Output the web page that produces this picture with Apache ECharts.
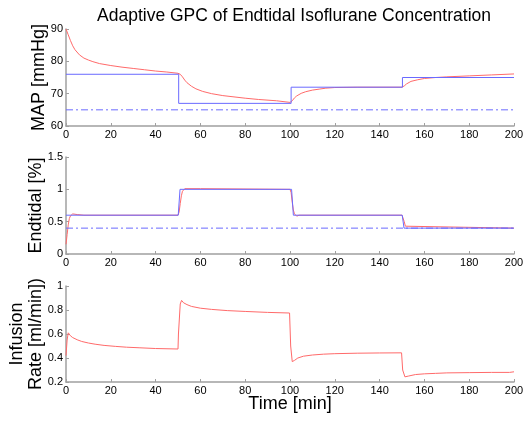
<!DOCTYPE html>
<html>
<head>
<meta charset="utf-8">
<script src="https://cdn.jsdelivr.net/npm/echarts@6/dist/echarts.min.js"></script>
<style>html,body{margin:0;padding:0;background:#fff}#c{width:526px;height:421px}</style>
</head>
<body>
<div id="c"></div>
<script>
// ---- data ----
var xTicks = [0, 20, 40, 60, 80, 100, 120, 140, 160, 180, 200];

var mapTime  = [0, 1, 2, 3, 4, 6, 8, 10, 12, 15, 20, 25, 30, 35, 40, 45, 50, 51, 52, 53, 54, 56, 58, 61, 65, 70, 75, 80, 86, 94, 100, 101, 102, 103, 105, 107, 110, 113, 116, 120, 130, 150, 151, 152, 154, 157, 160, 165, 170, 180, 190, 200];
var mapValue = [90, 88.2, 86.4, 84.8, 83.6, 82, 81, 80.4, 79.9, 79.3, 78.7, 78.2, 77.8, 77.4, 77, 76.7, 76.3, 76, 75.2, 74.2, 73.4, 72.3, 71.5, 70.7, 70, 69.4, 69, 68.6, 68.2, 67.8, 67.3, 67.8, 68.7, 69.3, 70.1, 70.6, 71.1, 71.4, 71.7, 71.9, 72, 72, 72.4, 73, 73.8, 74.3, 74.7, 75, 75.2, 75.5, 75.8, 76.1];
var mapSetTime  = [0, 50.3, 100.5, 150.2, 200];
var mapSetValue = [76, 67, 72, 75, 75];
var mapLimit = 65;

var etTime  = [0, 0.5, 1, 1.5, 2, 3, 5, 8, 50, 50.5, 51, 51.5, 52, 53, 60, 100, 100.5, 101, 101.5, 102, 103, 104, 150, 150.5, 151, 151.5, 152, 200];
var etValue = [0.15, 0.3, 0.45, 0.55, 0.59, 0.62, 0.61, 0.6, 0.6, 0.65, 0.78, 0.9, 0.97, 1.01, 1.01, 1.0, 0.95, 0.8, 0.68, 0.62, 0.585, 0.6, 0.6, 0.57, 0.5, 0.43, 0.4, 0.4];
var etRefTime  = [0, 50.1, 50.9, 100.7, 101.5, 150.1, 150.9, 200];
var etRefValue = [0.6, 0.6, 1.0, 1.0, 0.6, 0.6, 0.4, 0.4];
var etLimit = 0.4;

var infTime  = [0, 0.5, 1, 1.5, 2, 3, 5, 7, 10, 13, 17, 22, 27, 33, 40, 50, 50.2, 51, 51.6, 52.5, 54, 56, 60, 65, 72, 80, 90, 99.8, 100.3, 101, 102, 103.5, 106, 110, 115, 120, 130, 140, 149.8, 150.3, 151.3, 153, 156, 160, 165, 170, 180, 190, 198, 200];
var infValue = [0.42, 0.55, 0.61, 0.6, 0.585, 0.57, 0.552, 0.538, 0.525, 0.515, 0.505, 0.497, 0.49, 0.485, 0.479, 0.475, 0.6, 0.85, 0.88, 0.86, 0.845, 0.83, 0.815, 0.805, 0.795, 0.788, 0.78, 0.775, 0.5, 0.37, 0.38, 0.4, 0.415, 0.425, 0.432, 0.436, 0.44, 0.442, 0.443, 0.3, 0.243, 0.25, 0.262, 0.268, 0.272, 0.276, 0.278, 0.28, 0.28, 0.285];

var yTicks1 = [60, 70, 80, 90];
var yTicks2 = [0, 0.5, 1, 1.5];
var yTicks3 = [0.2, 0.4, 0.6, 0.8, 1];

// ---- helpers ----
function pairs(t, v) { return t.map(function (x, i) { return [x, v[i]]; }); }
var FONT = 'Liberation Sans, Arial, sans-serif';
var RED = '#ff6a6a', BLUE = '#6a6aff';

function xAx(idx, name) {
  return {
    type: 'value', gridIndex: idx, min: 0, max: 200, interval: 20,
    axisLine: { show: true, lineStyle: { color: '#a0a0a0', width: 1.5 } },
    axisTick: { show: true, inside: true, length: 3, lineStyle: { color: '#a0a0a0' } },
    axisLabel: { color: '#000', fontSize: 11, fontFamily: FONT, margin: 3 },
    splitLine: { show: false },
    name: name || '', nameLocation: 'middle', nameGap: 13, nameMoveOverlap: false,
    nameTextStyle: { color: '#000', fontSize: 18, fontFamily: FONT }
  };
}
function yAx(idx, min, max, interval, name, gap) {
  return {
    type: 'value', gridIndex: idx, min: min, max: max, interval: interval,
    axisLine: { show: true, lineStyle: { color: '#a0a0a0', width: 1.5 } },
    axisTick: { show: true, inside: true, length: 3, lineStyle: { color: '#a0a0a0' } },
    axisLabel: { color: '#000', fontSize: 11, fontFamily: FONT, margin: 3 },
    splitLine: { show: false },
    name: name, nameLocation: 'middle', nameGap: gap, nameRotate: 90, nameMoveOverlap: false,
    nameTextStyle: { color: '#000', fontSize: 18, fontFamily: FONT, lineHeight: 19 }
  };
}
function ln(xi, data, color, extra) {
  var s = {
    type: 'line', xAxisIndex: xi, yAxisIndex: xi, data: data, symbol: 'none',
    lineStyle: { color: color, width: 1 }, animation: false, silent: true, z: 2
  };
  for (var k in extra) s[k] = extra[k];
  return s;
}

var option = {
  animation: false,
  backgroundColor: '#fff',
  title: {
    text: 'Adaptive GPC of Endtidal Isoflurane Concentration',
    left: 289, top: 2, textAlign: 'center',
    textStyle: { color: '#000', fontSize: 17.5, fontWeight: 'normal', fontFamily: FONT }
  },
  grid: [
    { left: 66, width: 448, top: 29, height: 97, outerBoundsMode: 'none', containLabel: false },
    { left: 66, width: 448, top: 157, height: 97, outerBoundsMode: 'none', containLabel: false },
    { left: 66, width: 448, top: 286, height: 96, outerBoundsMode: 'none', containLabel: false }
  ],
  xAxis: [xAx(0), xAx(1), xAx(2, 'Time [min]')],
  yAxis: [
    yAx(0, 60, 90, 10, 'MAP [mmHg]', 17),
    yAx(1, 0, 1.5, 0.5, 'Endtidal [%]', 20),
    yAx(2, 0.2, 1, 0.2, 'Infusion\nRate [ml/min])', 20)
  ],
  series: [
    ln(0, pairs(mapTime, mapValue), RED, {}),
    ln(0, pairs(mapSetTime, mapSetValue), BLUE, { step: 'end', z: 3 }),
    ln(0, [[0, mapLimit], [200, mapLimit]], BLUE, { lineStyle: { color: BLUE, width: 1, type: [7, 3, 2, 3] } }),
    ln(1, pairs(etTime, etValue), RED, {}),
    ln(1, pairs(etRefTime, etRefValue), BLUE, { z: 3 }),
    ln(1, [[0, etLimit], [200, etLimit]], BLUE, { lineStyle: { color: BLUE, width: 1, type: [7, 3, 2, 3] } }),
    ln(2, pairs(infTime, infValue), RED, {})
  ]
};

var chart = echarts.init(document.getElementById('c'), null, { renderer: 'canvas' });
chart.setOption(option);
</script>
</body>
</html>
